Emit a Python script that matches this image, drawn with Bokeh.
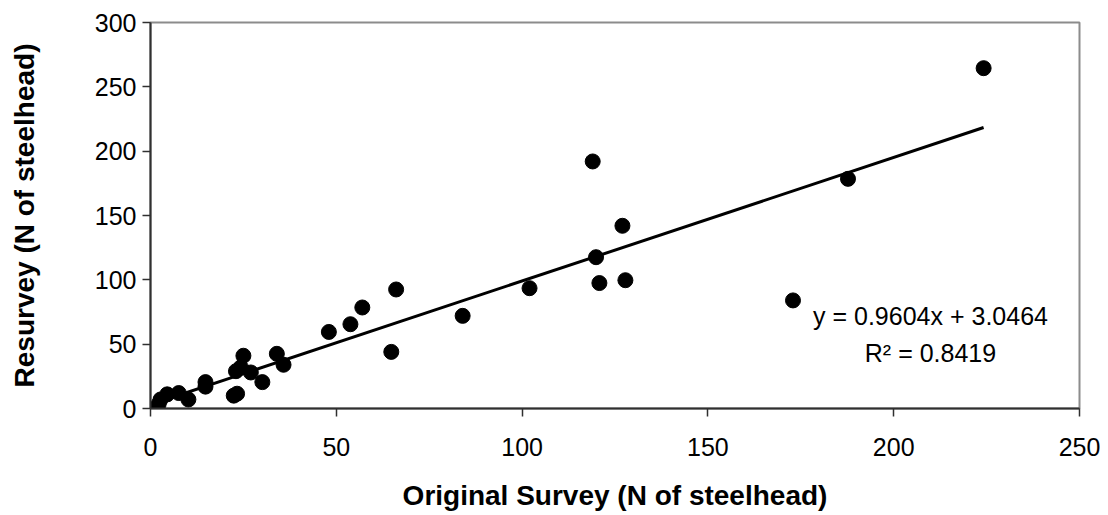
from bokeh.plotting import figure
from bokeh.models import Range1d, Label, FixedTicker
from bokeh.embed import file_html
from bokeh.resources import INLINE

# Data
original = [1.5, 2.2, 2.7, 4.5, 7.6, 10.2, 14.8, 14.8, 22.4, 23.3, 23.0, 24.3,
            25.0, 27.0, 30.1, 34.0, 35.8, 48.0, 53.8, 57.0, 64.8, 66.1, 84.0,
            102.0, 119.0, 119.9, 120.8, 127.0, 127.8, 172.9, 187.7, 224.2]
resurvey = [0.0, 3.5, 7.0, 11.0, 12.0, 7.0, 20.5, 17.0, 10.0, 11.5, 29.0, 32.0,
            41.0, 28.0, 20.5, 42.5, 34.0, 59.5, 65.5, 78.5, 44.0, 92.5, 72.0,
            93.5, 192.0, 117.6, 97.5, 142.0, 99.7, 84.0, 178.5, 264.5]
slope = 0.9604
intercept = 3.0464
r_squared = 0.8419
x_ticks = [0, 50, 100, 150, 200, 250]
y_ticks = [0, 50, 100, 150, 200, 250, 300]

FONT = "Liberation Sans"
FS = "25px"
TITLE_FS = "28px"

p = figure(frame_width=929, frame_height=386,
           x_range=Range1d(0, 250), y_range=Range1d(0, 300),
           output_backend="svg", toolbar_location=None,
           min_border_left=150, min_border_right=21,
           min_border_top=22, min_border_bottom=99)

p.background_fill_color = "white"
p.border_fill_color = "white"
p.outline_line_color = "#8c8c8c"
p.outline_line_width = 2
p.xgrid.visible = False
p.ygrid.visible = False

# trend line over the data's x extent
x0, x1 = min(original), max(original)
p.line([x0, x1], [slope * x0 + intercept, slope * x1 + intercept],
       line_color="black", line_width=3)

p.scatter(original, resurvey, size=15, fill_color="black", line_color="black")

for ax in (p.xaxis[0], p.yaxis[0]):
    ax.major_label_text_font = FONT
    ax.major_label_text_font_size = FS
    ax.major_label_text_color = "black"
    ax.axis_label_text_font = FONT
    ax.axis_label_text_font_size = TITLE_FS
    ax.axis_label_text_font_style = "bold"
    ax.axis_label_text_color = "black"
    ax.axis_line_color = "#303030"
    ax.axis_line_width = 2
    ax.major_tick_line_color = "#303030"
    ax.major_tick_line_width = 1.5
    ax.major_tick_in = 0
    ax.major_tick_out = 8
    ax.minor_tick_line_color = None

p.xaxis[0].ticker = FixedTicker(ticks=x_ticks)
p.yaxis[0].ticker = FixedTicker(ticks=y_ticks)
p.xaxis[0].axis_label = "Original Survey (N of steelhead)"
p.yaxis[0].axis_label = "Resurvey (N of steelhead)"
p.xaxis[0].major_label_standoff = 21
p.xaxis[0].axis_label_standoff = 21
p.yaxis[0].major_label_standoff = 6
p.yaxis[0].axis_label_standoff = 52

eq = Label(x=209.9, y=72, text=f"y = {slope}x + {intercept}",
           text_align="center", text_baseline="alphabetic",
           text_font=FONT, text_font_size=FS, text_color="black")
r2 = Label(x=209.9, y=43, text=f"R\u00b2 = {r_squared}",
           text_align="center", text_baseline="alphabetic",
           text_font=FONT, text_font_size=FS, text_color="black")
p.add_layout(eq)
p.add_layout(r2)

open("out.html", "w").write(file_html(p, INLINE))
